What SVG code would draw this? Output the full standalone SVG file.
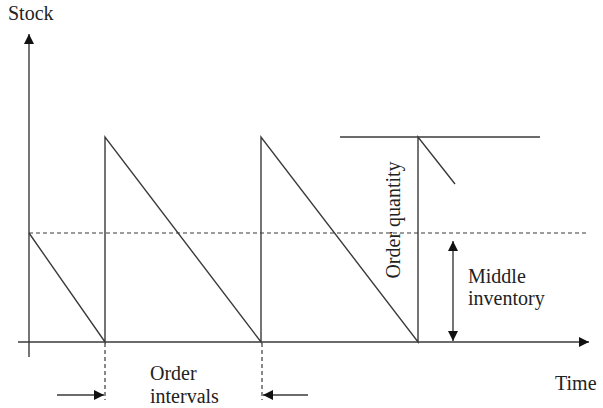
<svg xmlns="http://www.w3.org/2000/svg" width="603" height="408" viewBox="0 0 603 408">
<style>
.ln{stroke:#3a3a3a;stroke-width:1.4;fill:none}
.ds{stroke:#3a3a3a;stroke-width:1.2;fill:none;stroke-dasharray:4 3}
.t{font-family:"Liberation Serif","Times New Roman",serif;font-size:20px;fill:#222}
</style>
<defs>
<marker id="ah" viewBox="0 0 10 10" refX="10" refY="5" markerWidth="10" markerHeight="10" markerUnits="userSpaceOnUse" orient="auto-start-reverse">
<path d="M0,0 L10,5 L0,10 Z" fill="#111"/>
</marker>
</defs>
<rect width="603" height="408" fill="#fff"/>
<g id="axes">
<line class="ln" x1="29" y1="357" x2="29" y2="34" marker-end="url(#ah)"/>
<line class="ln" x1="18" y1="342" x2="589" y2="342" marker-end="url(#ah)"/>
</g>
<g id="sawtooth">
<polyline class="ln" points="29,233 105,342 105,137 261,342 261,137 418,342 418,137 455,184"/>
<line class="ln" x1="340" y1="137" x2="540" y2="137"/>
</g>
<g id="connectors">
<line class="ds" x1="29" y1="233" x2="588" y2="233"/>
<line class="ds" x1="105" y1="343" x2="105" y2="400"/>
<line class="ds" x1="262" y1="343" x2="262" y2="400"/>
<line class="ln" x1="57" y1="395" x2="104" y2="395" marker-end="url(#ah)"/>
<line class="ln" x1="308" y1="395" x2="263" y2="395" marker-end="url(#ah)"/>
<line class="ln" x1="453" y1="241" x2="453" y2="341" marker-start="url(#ah)" marker-end="url(#ah)"/>
</g>
<g id="labels">
<text class="t" x="8" y="20">Stock</text>
<text class="t" x="555" y="390">Time</text>
<text class="t" x="150" y="380">Order</text>
<text class="t" x="150" y="403">intervals</text>
<text class="t" x="468" y="283">Middle</text>
<text class="t" x="468" y="305">inventory</text>
<text class="t" text-anchor="middle" transform="translate(400,220) rotate(-90)">Order quantity</text>
</g>
</svg>
